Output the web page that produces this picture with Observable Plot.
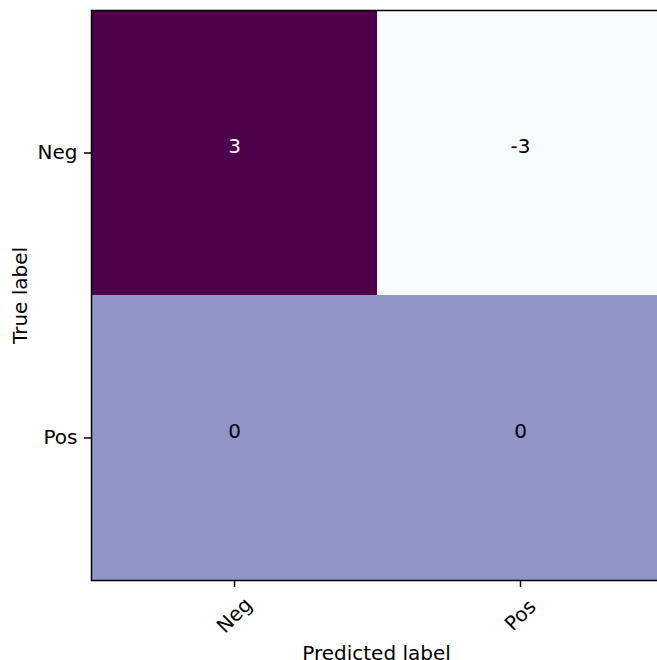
<!DOCTYPE html>
<html>
<head>
<meta charset="utf-8">
<script src="https://cdn.jsdelivr.net/npm/d3@7"></script>
<script src="https://cdn.jsdelivr.net/npm/@observablehq/plot@0.6"></script>
<style>
  html, body { margin: 0; padding: 0; background: white; overflow: hidden; }
  #chart svg { max-width: none !important; }
</style>
</head>
<body>
<div id="chart"></div>
<script>
const classes = ["Neg", "Pos"];
const trueLabels = ["Neg", "Neg", "Pos", "Pos"];
const predLabels = ["Neg", "Pos", "Neg", "Pos"];
const values = [3, -3, 0, 0];

const cells = values.map((v, i) => ({truth: trueLabels[i], pred: predLabels[i], value: v}));
const maxV = d3.max(values);

const chart = Plot.plot({
  width: 663,
  height: 660,
  marginLeft: 91,
  marginRight: 0,
  marginTop: 10,
  marginBottom: 80,
  style: {fontFamily: "DejaVu Sans", fontSize: "20px", background: "white", maxWidth: "none"},
  x: {domain: classes, padding: 0, label: null},
  y: {domain: classes, padding: 0, label: null},
  color: {type: "linear", scheme: "bupu", domain: [-3, 3]},
  marks: [
    Plot.cell(cells, {x: "pred", y: "truth", fill: "value", inset: 0, shapeRendering: "crispEdges"}),
    Plot.text(cells, {
      x: "pred", y: "truth", text: d => String(d.value),
      fill: d => d.value > maxV / 2 ? "white" : "black",
      fontSize: 20, lineAnchor: "bottom"
    }),
    Plot.frame({stroke: "black", strokeWidth: 1.5}),
    Plot.axisY({tickSize: 7, tickPadding: 7, fontSize: 20, label: null, strokeWidth: 1.5}),
    Plot.axisX({tickSize: 7, tickFormat: () => "", label: null, strokeWidth: 1.5}),
    Plot.text(classes, {
      x: d => d, text: d => d, frameAnchor: "bottom", dy: 35,
      rotate: -45, textAnchor: "middle", lineAnchor: "middle", fontSize: 20
    }),
    Plot.text(["True label"], {
      frameAnchor: "left", dx: -71, rotate: -90, textAnchor: "middle",
      lineAnchor: "middle", fontSize: 20
    }),
    Plot.text(["Predicted label"], {
      frameAnchor: "bottom", dx: -1, dy: 79, textAnchor: "middle",
      lineAnchor: "bottom", fontSize: 20
    })
  ]
});
document.getElementById("chart").appendChild(chart);
</script>
</body>
</html>
